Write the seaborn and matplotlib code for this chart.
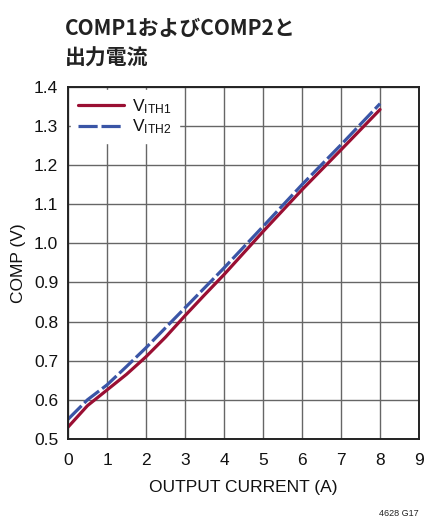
import numpy as np
import pandas as pd
import seaborn as sns
import matplotlib.pyplot as plt
from matplotlib import font_manager

# Output current (A) and COMP voltages (V)
current = [0, 0.5, 1, 1.5, 2, 2.5, 3, 3.5, 4, 5, 6, 7, 8]
vith1 = [0.530, 0.585, 0.625, 0.665, 0.710, 0.760, 0.815, 0.868, 0.920, 1.030, 1.137, 1.239, 1.342]
vith2 = [0.550, 0.600, 0.638, 0.685, 0.733, 0.784, 0.835, 0.886, 0.937, 1.043, 1.150, 1.252, 1.357]

x_ticks = [0, 1, 2, 3, 4, 5, 6, 7, 8, 9]
y_ticks = [0.5, 0.6, 0.7, 0.8, 0.9, 1.0, 1.1, 1.2, 1.3, 1.4]

title_lines = ["COMP1およびCOMP2と", "出力電流"]
series_names = ["$\\mathregular{V_{ITH1}}$", "$\\mathregular{V_{ITH2}}$"]

sns.set_theme(style="white")
names = {f.name for f in font_manager.fontManager.ttflist}
narrow = "Liberation Sans Narrow" if "Liberation Sans Narrow" in names else "Liberation Sans"
plt.rcParams["font.family"] = [narrow, "DejaVu Sans"]
plt.rcParams["mathtext.fontset"] = "custom"
plt.rcParams["mathtext.rm"] = narrow

df = pd.DataFrame({
    "current": current * 2,
    "comp": vith1 + vith2,
    "series": [series_names[0]] * len(current) + [series_names[1]] * len(current),
})

fig = plt.figure(figsize=(4.25, 5.2), dpi=100)
ax = fig.add_axes([0.16, 0.156, 0.826, 0.677])

sns.lineplot(data=df, x="current", y="comp", hue="series", style="series",
             palette={series_names[0]: "#9a0f33", series_names[1]: "#3a55a6"},
             dashes={series_names[0]: "", series_names[1]: (6, 1.2)},
             linewidth=2.3, ax=ax)

ax.set_xlim(0, 9)
ax.set_ylim(0.5, 1.4)
ax.set_xticks(x_ticks)
ax.set_yticks(y_ticks)
ax.set_xticklabels([str(v) for v in x_ticks])
ax.set_yticklabels([f"{v:.1f}" for v in y_ticks])
ax.grid(True, color="#666666", linewidth=1.0)
ax.tick_params(axis="both", length=0, labelsize=12.5, colors="#111111")
ax.tick_params(axis="x", pad=10)
ax.tick_params(axis="y", pad=7)
for s in ax.spines.values():
    s.set_color("#222222")
    s.set_linewidth(1.4)

ax.set_xlabel("OUTPUT CURRENT (A)", fontsize=12.5, labelpad=9, color="#111111")
ax.set_ylabel("COMP (V)", fontsize=12.5, labelpad=6, color="#111111")

leg = ax.legend(loc="upper left", bbox_to_anchor=(0.0, 1.0), frameon=True,
                fontsize=12.5, handlelength=2.6, handletextpad=0.5,
                borderpad=0.3, labelspacing=0.1, borderaxespad=0.3)
leg.get_frame().set_facecolor("white")
leg.get_frame().set_edgecolor("white")
leg.get_frame().set_alpha(1.0)
leg.get_frame().set_boxstyle("square", pad=0.1)
for t in leg.get_texts():
    t.set_color("#111111")

for i, line in enumerate(title_lines):
    fig.text(0.153, 0.946 - i * 0.058, line, fontsize=15, fontweight="bold",
             family=["Noto Sans CJK JP", "DejaVu Sans"], color="#222222", va="center")

fig.text(0.986, 0.004, "4628 G17", fontsize=6.5, ha="right", va="bottom", color="#222222")

fig.savefig("out.png", dpi=100)
